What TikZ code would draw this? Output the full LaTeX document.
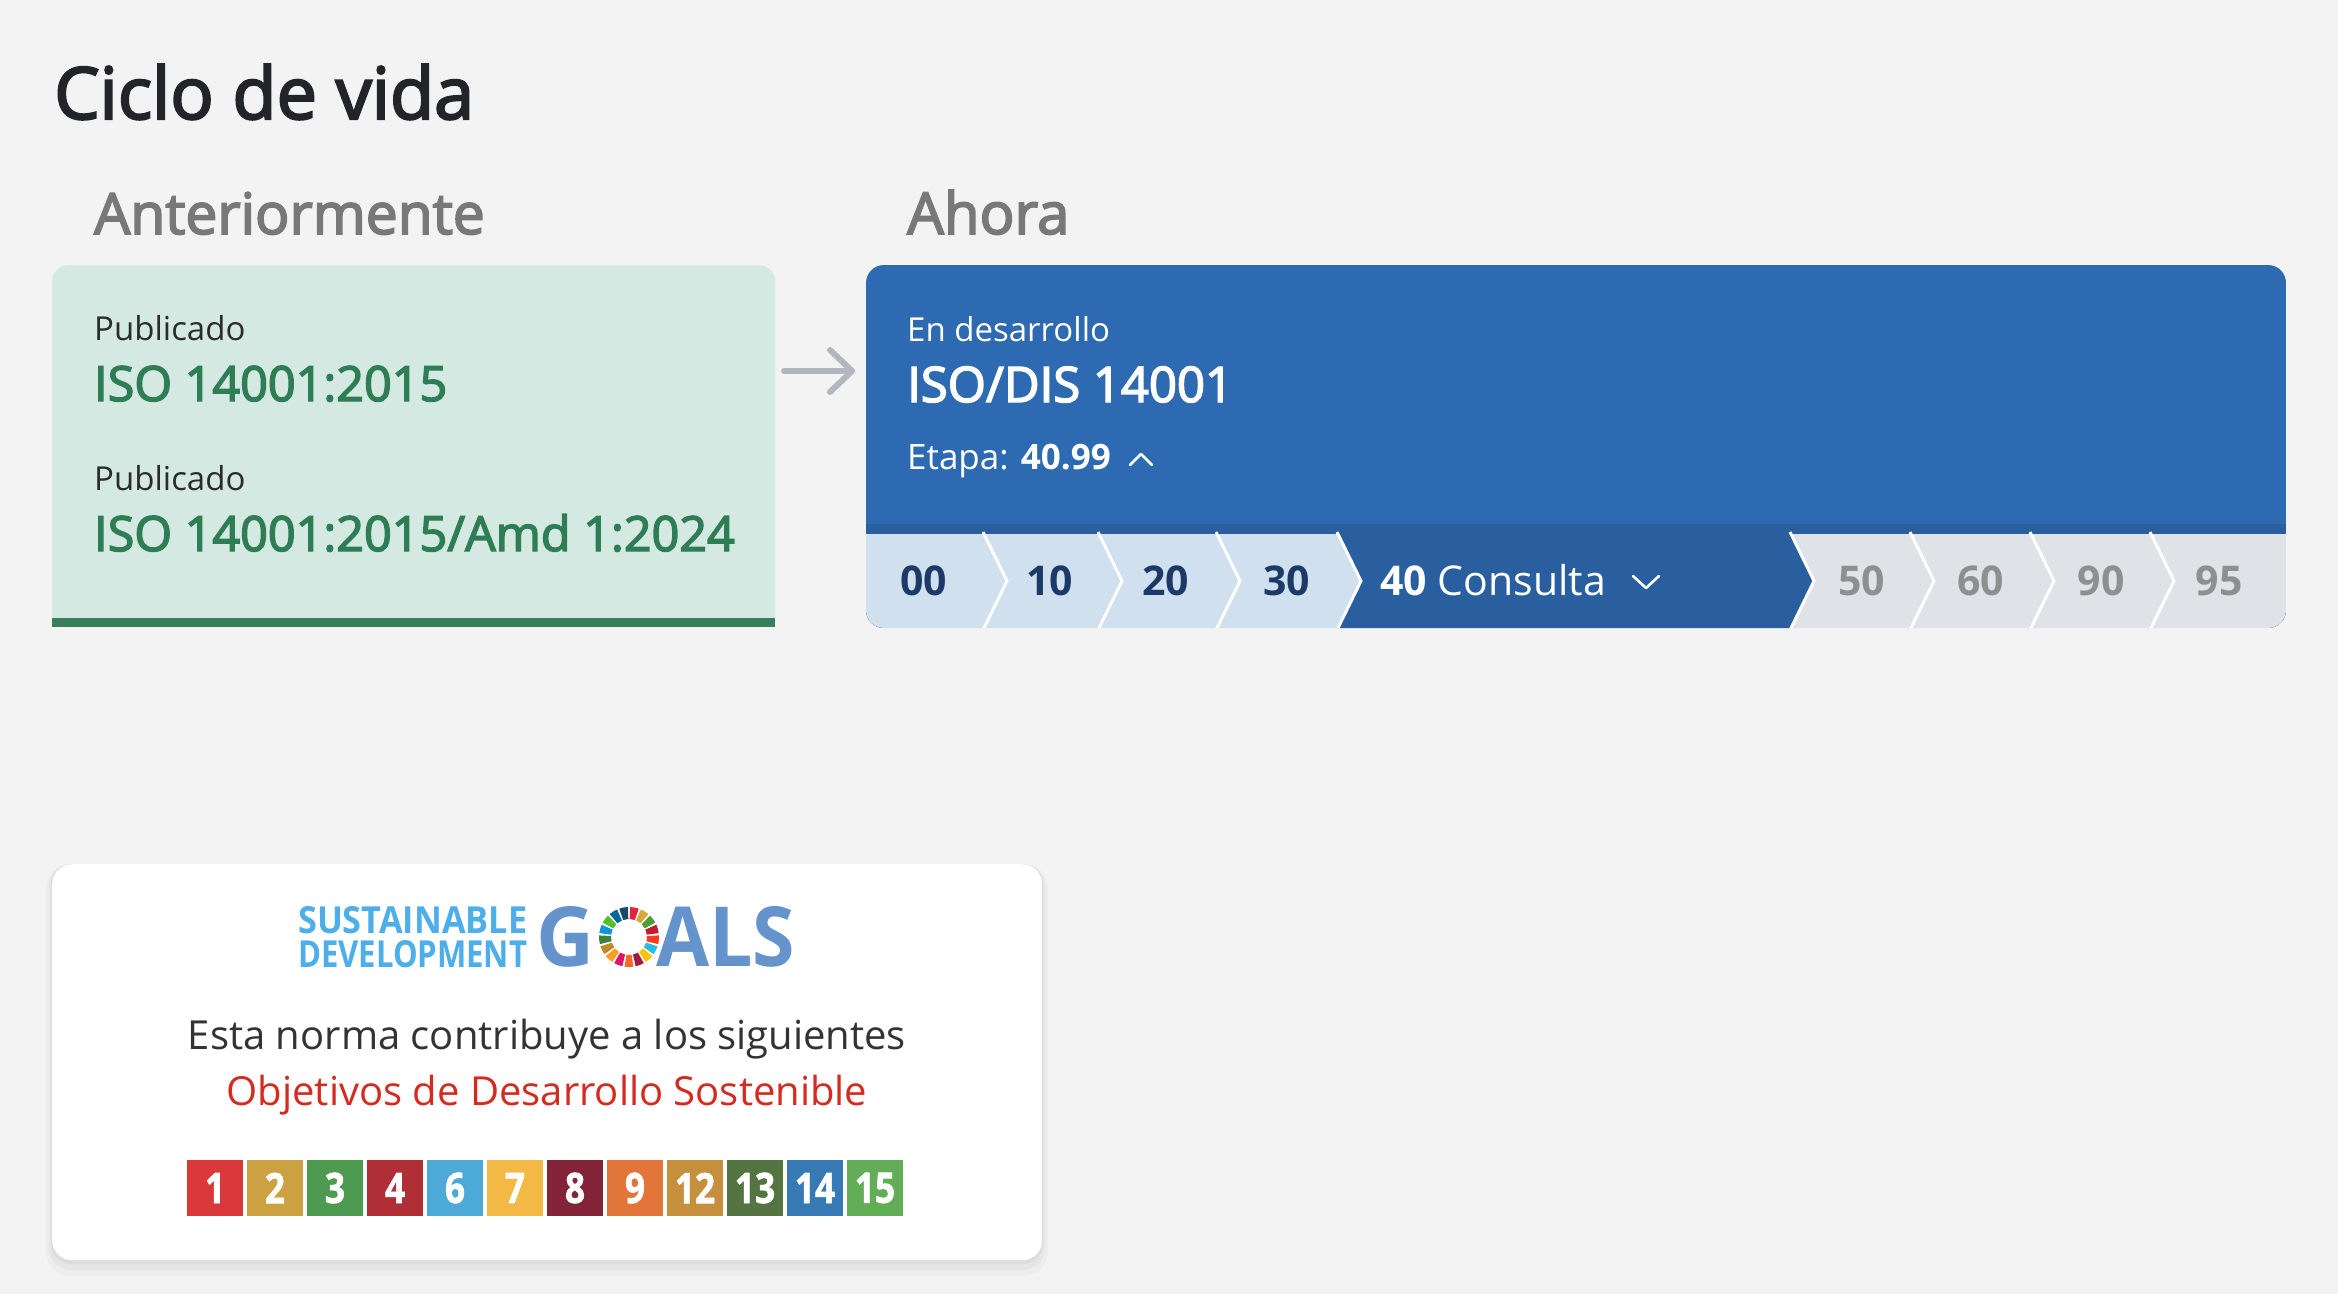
\documentclass[tikz,border=0pt]{standalone}
\usepackage{fontspec}
\setmainfont{Open Sans}
\newfontfamily\medfont{Open Sans}[FakeBold=3]
\newfontfamily\sqfont{Open Sans}[BoldFeatures={FakeBold=1.6}]
\usetikzlibrary{arrows.meta}
\newcommand{\setfs}[1]{\fontsize{#1pt}{#1pt}\selectfont}
\definecolor{bg}{HTML}{F3F3F3}
\definecolor{titlecol}{HTML}{212529}
\definecolor{headgray}{HTML}{787878}
\definecolor{greenfill}{HTML}{D4E9E1}
\definecolor{greenbar}{HTML}{38805A}
\definecolor{greentext}{HTML}{2E7D55}
\definecolor{pubtext}{HTML}{2B2B2B}
\definecolor{isoblue}{HTML}{2E6AB1}
\definecolor{darkblue}{HTML}{295E9F}
\definecolor{stlight}{HTML}{D0E0EF}
\definecolor{stgray}{HTML}{DFE2E6}
\definecolor{navy}{HTML}{1B3A68}
\definecolor{graytxt}{HTML}{8F8F8F}
\definecolor{arrowgray}{HTML}{B1B7BE}
\definecolor{textdark}{HTML}{333333}
\definecolor{sdgred}{HTML}{D42A20}
\definecolor{logoblue}{HTML}{4DAEE9}
\definecolor{goalsblue}{HTML}{6494CB}
% SDG square colours
\definecolor{q1}{HTML}{D9393A}
\definecolor{q2}{HTML}{CBA141}
\definecolor{q3}{HTML}{4E9A50}
\definecolor{q4}{HTML}{B02E36}
\definecolor{q6}{HTML}{4DAAD8}
\definecolor{q7}{HTML}{F2BA44}
\definecolor{q8}{HTML}{832337}
\definecolor{q9}{HTML}{E2753A}
\definecolor{q12}{HTML}{C68F3E}
\definecolor{q13}{HTML}{547442}
\definecolor{q14}{HTML}{3779B5}
\definecolor{q15}{HTML}{62AE56}
% wheel colours
\definecolor{w1}{HTML}{E5243B}
\definecolor{w2}{HTML}{DDA63A}
\definecolor{w3}{HTML}{4C9F38}
\definecolor{w4}{HTML}{C5192D}
\definecolor{w5}{HTML}{FF3A21}
\definecolor{w6}{HTML}{26BDE2}
\definecolor{w7}{HTML}{FCC30B}
\definecolor{w8}{HTML}{A21942}
\definecolor{w9}{HTML}{FD6925}
\definecolor{w10}{HTML}{DD1367}
\definecolor{w11}{HTML}{FD9D24}
\definecolor{w12}{HTML}{BF8B2E}
\definecolor{w13}{HTML}{3F7E44}
\definecolor{w14}{HTML}{0A97D9}
\definecolor{w15}{HTML}{56C02B}
\definecolor{w16}{HTML}{00689D}
\definecolor{w17}{HTML}{19486A}
\tikzset{
  txt/.style={inner sep=0pt, anchor=base west},
  ctxt/.style={inner sep=0pt, anchor=base},
  sep/.style={draw=white, line width=3pt},
  sdgsq/.style={inner sep=0pt, minimum width=56pt, minimum height=56pt, text=white, font=\sqfont\bfseries\setfs{42}},
  caretline/.style={line width=2.6pt, line cap=round, line join=round},
  arrowline/.style={arrowgray, line width=6pt, line cap=round, line join=round},
}
\begin{document}
\begin{tikzpicture}[x=1pt,y=-1pt]
\useasboundingbox (0,0) rectangle (2338,1294);
\fill[bg] (0,0) rectangle (2338,1294);

% headings
\node[txt, font={\medfont\setfs{72}}, text=titlecol] (title) at (54,119) {Ciclo de vida};
\node[txt, font={\medfont\setfs{57}}, text=headgray] (prevhead) at (94,234) {Anteriormente};
\node[txt, font={\medfont\setfs{58}}, text=headgray] (nowhead) at (907,234) {Ahora};

% previous box
\node[fill=greenfill, rounded corners=16pt, minimum width=723pt, minimum height=362pt, anchor=north west, inner sep=0pt] (prevbox) at (52,265) {};
\fill[greenfill] (prevbox.west) rectangle (prevbox.south east);
\fill[greenbar] ([yshift=9pt]prevbox.south west) rectangle (prevbox.south east);
\node[txt, font=\setfs{33}, text=pubtext] (pub1) at (94,340) {Publicado};
\node[txt, font={\medfont\setfs{48.5}}, text=greentext] (iso1) at (94,401) {ISO 14001:2015};
\node[txt, font=\setfs{33}, text=pubtext] (pub2) at (94,490) {Publicado};
\node[txt, font={\medfont\setfs{48.5}}, text=greentext] (iso2) at (94,551) {ISO 14001:2015/Amd 1:2024};

% arrow
\coordinate (arrA) at (784,371);
\coordinate (arrB) at (852,371);
\coordinate (arrU) at (830,350);
\coordinate (arrD) at (830,392);
\draw[arrowline] (arrA) -- (arrB);
\draw[arrowline] (arrU) -- (arrB) -- (arrD);

% current box
\begin{scope}
\path[clip, rounded corners=18pt] (866,265) rectangle (2286,628);
\node[fill=isoblue, minimum width=1420pt, minimum height=363pt, anchor=north west, inner sep=0pt] (nowbox) at (866,265) {};
\fill[darkblue] (866,524) rectangle (2286,628);
% stage segments
\fill[stlight] (866,534) -- (983,534) -- (1007,581) -- (983,628) -- (866,628) -- cycle;
\foreach \a/\b/\c in {983/1098/stlight, 1098/1216/stlight, 1216/1337/stlight, 1337/1790/darkblue, 1790/1910/stgray, 1910/2030/stgray, 2030/2150/stgray}{
  \fill[\c] (\a,534) -- (\b,534) -- (\b+24,581) -- (\b,628) -- (\a,628) -- (\a+24,581) -- cycle;
}
\fill[stgray] (2150,534) -- (2286,534) -- (2286,628) -- (2150,628) -- (2174,581) -- cycle;
\foreach \b in {983,1098,1216,1337,1790,1910,2030,2150}{
  \draw[sep] (\b,532) -- (\b+24,581) -- (\b,630);
}
\end{scope}

\node[txt, font=\setfs{33}, text=white] (dev) at (907,341) {En desarrollo};
\node[txt, font={\medfont\setfs{49}}, text=white] (iso3) at (907,402) {ISO/DIS 14001};
\node[txt, font=\setfs{35}, text=white] (etapa) at (907,469) {Etapa: \textbf{40.99}};
\coordinate (caretL) at (1130,465);
\coordinate (caretT) at (1141,454);
\coordinate (caretR) at (1152,465);
\draw[white, caretline] (caretL) -- (caretT) -- (caretR);

% stage labels
\node[ctxt, font=\bfseries\setfs{41}, text=navy] (s00) at (923.5,595) {00};
\node[ctxt, font=\bfseries\setfs{41}, text=navy] (s10) at (1049.5,595) {10};
\node[ctxt, font=\bfseries\setfs{41}, text=navy] (s20) at (1165.5,595) {20};
\node[ctxt, font=\bfseries\setfs{41}, text=navy] (s30) at (1286.5,595) {30};
\node[txt, font=\setfs{41}, text=white] (s40) at (1380,595) {\textbf{40} Consulta};
\coordinate (chvL) at (1633,576);
\coordinate (chvB) at (1646,588);
\coordinate (chvR) at (1659,576);
\draw[white, caretline] (chvL) -- (chvB) -- (chvR);
\node[ctxt, font=\bfseries\setfs{41}, text=graytxt] (s50) at (1861.5,595) {50};
\node[ctxt, font=\bfseries\setfs{41}, text=graytxt] (s60) at (1980.5,595) {60};
\node[ctxt, font=\bfseries\setfs{41}, text=graytxt] (s90) at (2101,595) {90};
\node[ctxt, font=\bfseries\setfs{41}, text=graytxt] (s95) at (2219,595) {95};

% SDG card
\fill[black, opacity=0.025, rounded corners=24pt] (46,864) rectangle (1048,1276);
\fill[black, opacity=0.03, rounded corners=22pt] (49,864) rectangle (1045,1270);
\fill[black, opacity=0.035, rounded corners=20pt] (51,864) rectangle (1043,1264);
\node[fill=white, rounded corners=20pt, minimum width=990pt, minimum height=396pt, anchor=north west, inner sep=0pt] (card) at (52,864) {};

% logo
\node[inner sep=0pt, anchor=north west, text=logoblue] (sust) at (298,906) {\resizebox{229pt}{27pt}{\bfseries SUSTAINABLE}};
\node[inner sep=0pt, anchor=north west, text=logoblue] (devt) at (298,940) {\resizebox{229pt}{27pt}{\bfseries DEVELOPMENT}};
\node[inner sep=0pt, anchor=north west, text=goalsblue] (gG) at (536,906) {\resizebox{58pt}{60pt}{\bfseries G}};
\node[inner sep=0pt, anchor=north west, text=goalsblue] (gALS) at (656,906) {\resizebox{139pt}{60pt}{\bfseries ALS}};
\begin{scope}[shift={(629,937)}]
\foreach \c [count=\k] in {w1,w2,w3,w4,w5,w6,w7,w8,w9,w10,w11,w12,w13,w14,w15,w16,w17}{
  \pgfmathsetmacro\aa{-90+(\k-1)*360/17+2.2}
  \pgfmathsetmacro\bb{-90+\k*360/17-2.2}
  \fill[\c] (\aa:30) arc[start angle=\aa, end angle=\bb, radius=30] -- (\bb:18) arc[start angle=\bb, end angle=\aa, radius=18] -- cycle;
}
\end{scope}

\node[ctxt, font=\setfs{40}, text=textdark] (esta) at (547,1049) {Esta norma contribuye a los siguientes};
\node[ctxt, font=\setfs{40}, text=sdgred] (obj) at (547,1105) {Objetivos de Desarrollo Sostenible};

\foreach \n/\c [count=\i] in {1/q1,2/q2,3/q3,4/q4,6/q6,7/q7,8/q8,9/q9,12/q12,13/q13,14/q14,15/q15}{
  \node[sdgsq, fill=\c] (sq\n) at (215+\i*60-60,1188) {\scalebox{0.84}[1]{\n}};
}
\end{tikzpicture}
\end{document}
